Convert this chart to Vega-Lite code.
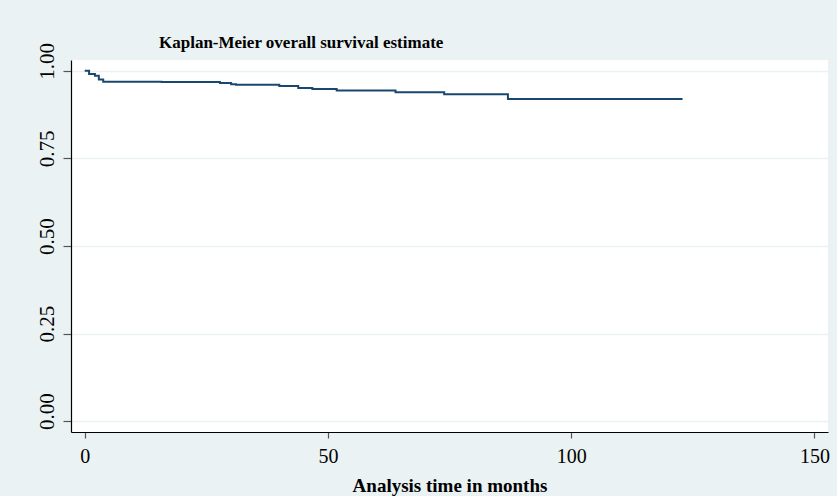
{
  "$schema": "https://vega.github.io/schema/vega-lite/v6.json",
  "width": 757,
  "height": 372,
  "autosize": {"type": "none"},
  "padding": {"left": 71, "top": 60, "right": 9, "bottom": 64},
  "background": "#eaf2f3",
  "title": {
    "text": "Kaplan-Meier overall survival estimate",
    "anchor": "start",
    "frame": "group",
    "dx": 88,
    "baseline": "alphabetic",
    "offset": -23,
    "font": "Liberation Serif",
    "fontSize": 17,
    "fontWeight": "bold",
    "color": "black"
  },
  "config": {
    "view": {"fill": "white", "stroke": null},
    "axis": {
      "labelFont": "Liberation Serif",
      "titleFont": "Liberation Serif",
      "labelColor": "black",
      "titleColor": "black",
      "domainColor": "black",
      "domainWidth": 1.2,
      "tickColor": "#555555",
      "tickWidth": 1.2
    }
  },
  "data": {
    "values": [
      {"t": 0, "s": 1.0},
      {"t": 0.9, "s": 0.991},
      {"t": 2.1, "s": 0.986},
      {"t": 2.9, "s": 0.975},
      {"t": 3.8, "s": 0.969},
      {"t": 15.8, "s": 0.968},
      {"t": 27.8, "s": 0.965},
      {"t": 30.1, "s": 0.962},
      {"t": 31.1, "s": 0.96},
      {"t": 40.0, "s": 0.957},
      {"t": 43.9, "s": 0.951},
      {"t": 46.8, "s": 0.948},
      {"t": 51.8, "s": 0.944},
      {"t": 63.9, "s": 0.939},
      {"t": 73.9, "s": 0.933},
      {"t": 87.0, "s": 0.92},
      {"t": 122.9, "s": 0.92}
    ]
  },
  "mark": {"type": "line", "interpolate": "step-after", "color": "#1a476f", "strokeWidth": 2},
  "encoding": {
    "x": {
      "field": "t",
      "type": "quantitative",
      "scale": {"domain": [-2.82, 152.8], "nice": false, "zero": false},
      "axis": {
        "title": "Analysis time in months",
        "titleFontSize": 19,
        "titleFontWeight": "bold",
        "titleBaseline": "alphabetic",
        "titlePadding": 25,
        "values": [0, 50, 100, 150],
        "format": "d",
        "labelFontSize": 20,
        "labelBaseline": "alphabetic",
        "labelPadding": 24,
        "tickSize": 6,
        "grid": false,
        "labelFlush": false
      }
    },
    "y": {
      "field": "s",
      "type": "quantitative",
      "scale": {"domain": [-0.031, 1.031], "nice": false, "zero": false},
      "axis": {
        "title": null,
        "values": [0, 0.25, 0.5, 0.75, 1],
        "format": ".2f",
        "labelFontSize": 21,
        "labelAngle": 270,
        "labelAlign": "center",
        "labelBaseline": "alphabetic",
        "labelPadding": 10,
        "labelOffset": -10,
        "tickSize": 8,
        "grid": true,
        "gridColor": "#eaf2f3",
        "gridWidth": 1.5,
        "labelFlush": false
      }
    }
  }
}
